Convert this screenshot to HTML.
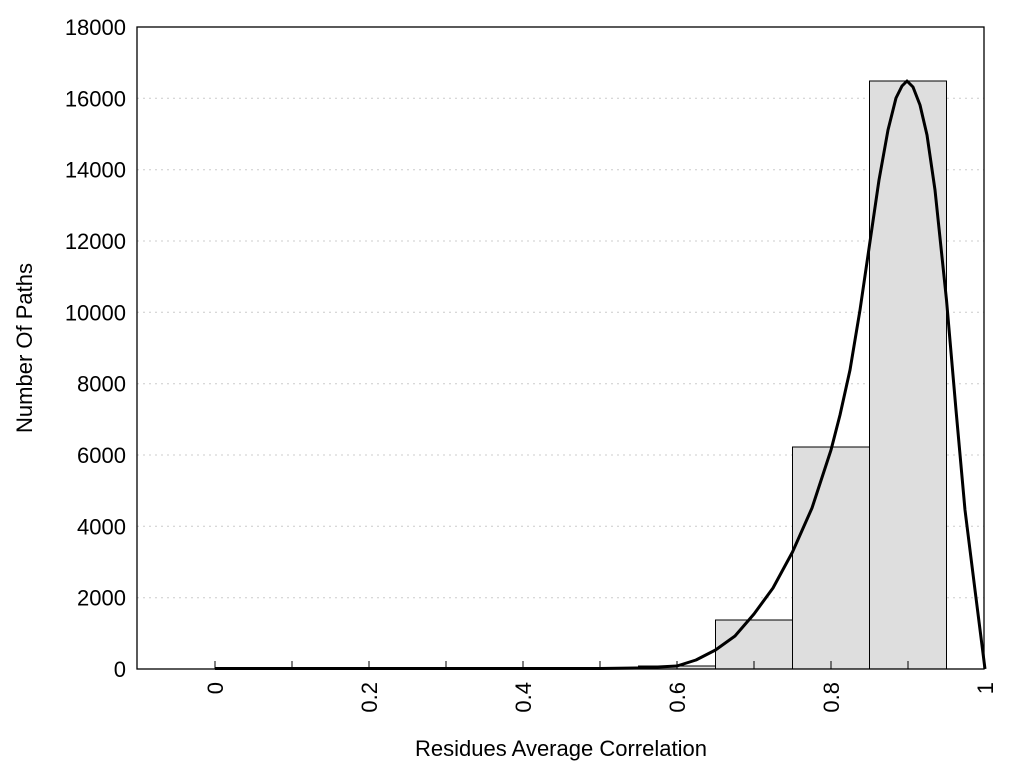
<!DOCTYPE html>
<html><head><style>body{margin:0;background:#fff}</style></head><body>
<svg width="1024" height="768" xmlns="http://www.w3.org/2000/svg" font-family="Liberation Sans, Arial, sans-serif" font-size="22">
<rect width="1024" height="768" fill="#fff"/>
<g stroke="#ccc" stroke-dasharray="2,4" stroke-width="1">
<line x1="137" x2="984" y1="597.7" y2="597.7"/><line x1="137" x2="984" y1="526.3" y2="526.3"/>
<line x1="137" x2="984" y1="455" y2="455"/><line x1="137" x2="984" y1="383.7" y2="383.7"/>
<line x1="137" x2="984" y1="312.3" y2="312.3"/><line x1="137" x2="984" y1="241" y2="241"/>
<line x1="137" x2="984" y1="169.7" y2="169.7"/><line x1="137" x2="984" y1="98.3" y2="98.3"/>
</g>
<g fill="#dedede" stroke="#000" stroke-width="1">
<rect x="638.5" y="666" width="77" height="3"/>
<rect x="715.5" y="620" width="77" height="49"/>
<rect x="792.5" y="447" width="77" height="222"/>
<rect x="869.5" y="81" width="77" height="588"/>
</g>
<rect x="137" y="27" width="847" height="642" fill="none" stroke="#000" stroke-width="1.3"/>
<g stroke="#000" stroke-width="1">
<line x1="215" x2="215" y1="669" y2="661"/><line x1="292" x2="292" y1="669" y2="661"/>
<line x1="369" x2="369" y1="669" y2="661"/><line x1="446" x2="446" y1="669" y2="661"/>
<line x1="523" x2="523" y1="669" y2="661"/><line x1="600" x2="600" y1="669" y2="661"/>
<line x1="677" x2="677" y1="669" y2="661"/><line x1="754" x2="754" y1="669" y2="661"/>
<line x1="831" x2="831" y1="669" y2="661"/><line x1="908" x2="908" y1="669" y2="661"/>
</g>
<polyline fill="none" stroke="#000" stroke-width="3" stroke-linejoin="round" points="215,668.5 600,668.5 638.5,668 677,666 696,660 715.5,650 735,636 754,614 773,588 792.5,552 812,508 831,450 840,415 850,370 860,310 869.5,245 879,180 888,130 896,98 902,86 907,81 913,87 920,105 927,135 935,190 946.5,300 956,410 965,510 975,590 985,669"/>
<g text-anchor="end">
<text x="126" y="677">0</text><text x="126" y="605.7">2000</text><text x="126" y="534.3">4000</text>
<text x="126" y="463">6000</text><text x="126" y="391.7">8000</text><text x="126" y="320.3">10000</text>
<text x="126" y="249">12000</text><text x="126" y="177.7">14000</text><text x="126" y="106.3">16000</text>
<text x="126" y="35">18000</text>
</g>
<g text-anchor="end">
<text transform="translate(223,682) rotate(-90)">0</text>
<text transform="translate(377,682) rotate(-90)">0.2</text>
<text transform="translate(531,682) rotate(-90)">0.4</text>
<text transform="translate(685,682) rotate(-90)">0.6</text>
<text transform="translate(839,682) rotate(-90)">0.8</text>
<text transform="translate(993,682) rotate(-90)">1</text>
</g>
<text x="561" y="756" text-anchor="middle">Residues Average Correlation</text>
<text transform="translate(32,348) rotate(-90)" text-anchor="middle">Number Of Paths</text>
</svg>
</body></html>
